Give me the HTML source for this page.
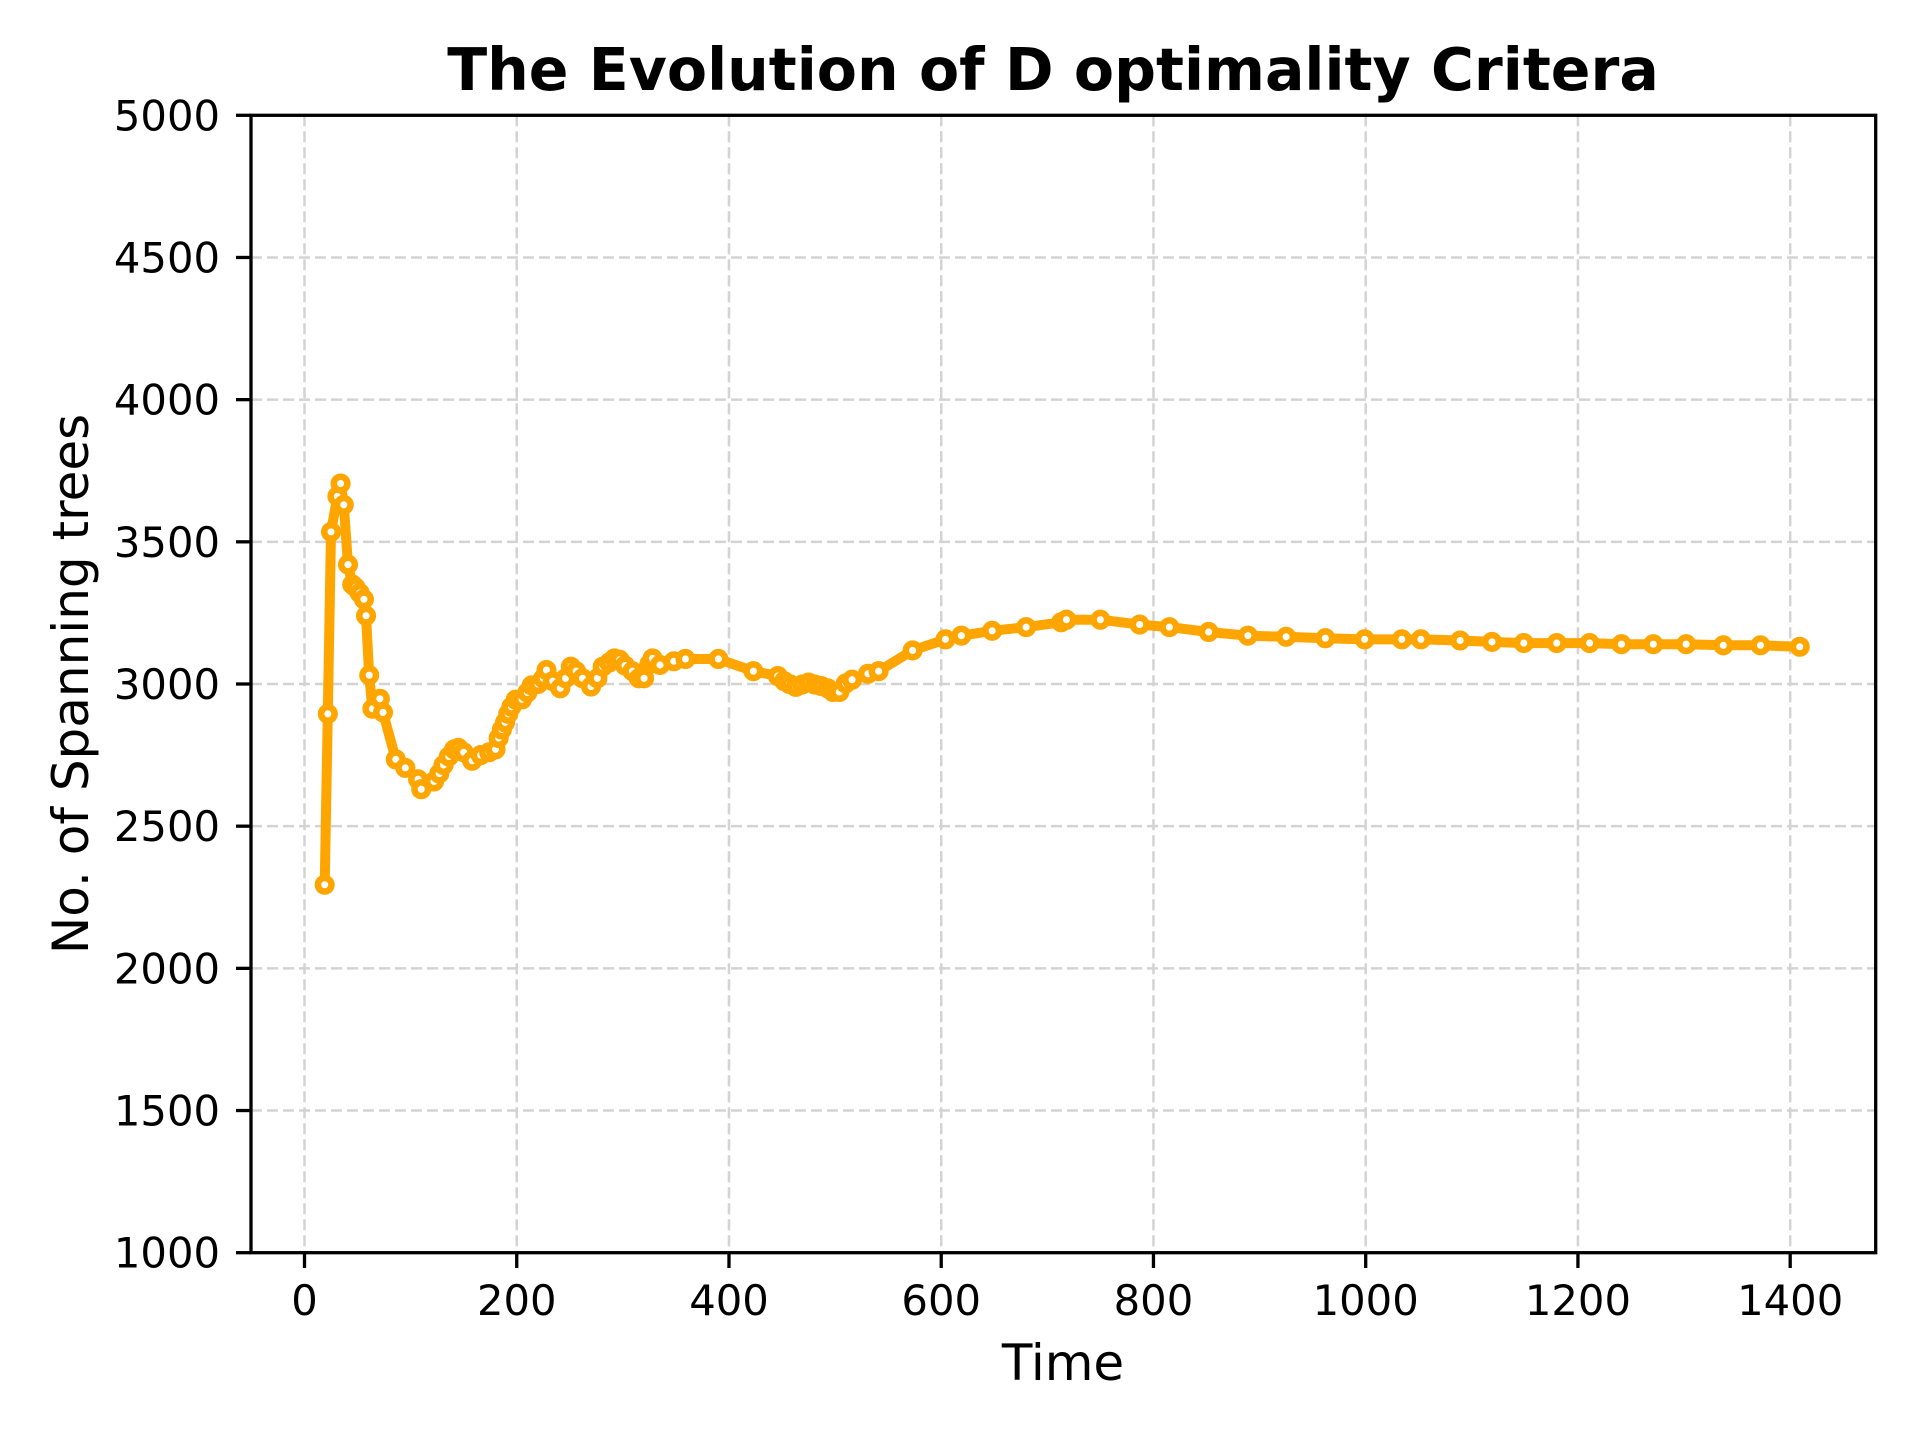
<!DOCTYPE html>
<html><head><meta charset="utf-8"><style>
html,body{margin:0;padding:0;background:#fff;}
svg{display:block;font-family:"DejaVu Sans","Liberation Sans",sans-serif;}
</style></head><body>
<svg id="chart" width="1920" height="1440" viewBox="0 0 1920 1440" xmlns="http://www.w3.org/2000/svg">
<rect x="0" y="0" width="1920" height="1440" fill="#fff"/>
<g id="grid"></g>
<g id="series"></g>
<rect x="251" y="115.3" width="1624.7" height="1137.4" fill="none" stroke="#000" stroke-width="3.3"/>
<g id="ticks"></g>
<text x="1053" y="90" text-anchor="middle" font-size="58.5" font-weight="bold">The Evolution of D optimality Critera</text>
<text x="1063" y="1380" text-anchor="middle" font-size="50">Time</text>
<text x="0" y="0" transform="translate(88,684) rotate(-90)" text-anchor="middle" font-size="50">No. of Spanning trees</text>
</svg>
<script>
const xTicks = [0,200,400,600,800,1000,1200,1400];
const yTicks = [1000,1500,2000,2500,3000,3500,4000,4500,5000];
const times = [19,22,25,31,34,37,41,45,48,52,56,58,61,64,71,74,86,95,107,110,122,127,131,136,141,145,150,158,166,174,180,183,186,189,192,195,199,205,210,214,220,225,228,234,241,246,251,256,262,270,276,281,287,292,297,302,309,315,320,325,328,335,348,359,390,423,446,452,457,463,469,475,481,487,493,498,504,510,516,531,541,573,604,619,648,680,713,718,750,787,815,852,889,925,962,999,1034,1052,1089,1119,1149,1180,1211,1241,1271,1302,1337,1372,1409];
const trees = [2294,2895,3535,3660,3705,3630,3420,3350,3340,3320,3298,3240,3031,2913,2948,2900,2735,2705,2665,2630,2657,2685,2715,2745,2770,2775,2760,2730,2750,2760,2770,2810,2840,2865,2895,2920,2945,2946,2970,2995,3000,3020,3049,3010,2985,3020,3061,3045,3020,2991,3020,3061,3075,3090,3085,3065,3045,3020,3020,3070,3090,3067,3080,3088,3088,3045,3028,3010,3000,2990,2998,3005,2998,2993,2985,2972,2972,3002,3015,3036,3045,3118,3157,3170,3187,3200,3217,3226,3226,3209,3200,3183,3170,3166,3161,3157,3157,3157,3153,3148,3144,3144,3144,3140,3140,3140,3136,3136,3131];

const X0 = 304.5, XS = 1.0612;
const Y0 = 1252.7, YS = 0.28435;
function xs(v){ return X0 + v*XS; }
function ys(v){ return Y0 - (v-1000)*YS; }
const NS = 'http://www.w3.org/2000/svg';
const grid = document.getElementById('grid');
const ticks = document.getElementById('ticks');
const series = document.getElementById('series');

xTicks.forEach(t => {
  const gl = document.createElementNS(NS,'line');
  gl.setAttribute('x1', xs(t)); gl.setAttribute('x2', xs(t));
  gl.setAttribute('y1', 115.3); gl.setAttribute('y2', 1252.7);
  gl.setAttribute('stroke', '#d3d3d3'); gl.setAttribute('stroke-width', '2.5'); gl.setAttribute('stroke-dasharray', '11 5');
  
  
  grid.appendChild(gl);
  const tk = document.createElementNS(NS,'line');
  tk.setAttribute('x1', xs(t)); tk.setAttribute('x2', xs(t));
  tk.setAttribute('y1', 1252.7); tk.setAttribute('y2', 1268);
  tk.setAttribute('stroke', '#000'); tk.setAttribute('stroke-width', '3.3');
  
  
  ticks.appendChild(tk);
  const tx = document.createElementNS(NS,'text');
  tx.setAttribute('x', xs(t)); tx.setAttribute('y', 1315);
  tx.setAttribute('text-anchor', 'middle'); tx.setAttribute('font-size', '41.7');
  tx.textContent = t;
  
  
  ticks.appendChild(tx);
});
yTicks.forEach(t => {
  const gl = document.createElementNS(NS,'line');
  gl.setAttribute('x1', 251); gl.setAttribute('x2', 1875.7);
  gl.setAttribute('y1', ys(t)); gl.setAttribute('y2', ys(t));
  gl.setAttribute('stroke', '#d3d3d3'); gl.setAttribute('stroke-width', '2.5'); gl.setAttribute('stroke-dasharray', '11 5');
  
  
  grid.appendChild(gl);
  const tk = document.createElementNS(NS,'line');
  tk.setAttribute('x1', 236); tk.setAttribute('x2', 251);
  tk.setAttribute('y1', ys(t)); tk.setAttribute('y2', ys(t));
  tk.setAttribute('stroke', '#000'); tk.setAttribute('stroke-width', '3.3');
  
  
  ticks.appendChild(tk);
  const tx = document.createElementNS(NS,'text');
  tx.setAttribute('x', 220); tx.setAttribute('y', ys(t)+15);
  tx.setAttribute('text-anchor', 'end'); tx.setAttribute('font-size', '41.7');
  tx.textContent = t;
  
  
  ticks.appendChild(tx);
});

const pts = times.map((t,i) => xs(t).toFixed(1)+','+ys(trees[i]).toFixed(1)).join(' ');
const pl = document.createElementNS(NS,'polyline');
pl.setAttribute('points', pts);
pl.setAttribute('fill', 'none'); pl.setAttribute('stroke', '#FFA500');
pl.setAttribute('stroke-width', '10'); pl.setAttribute('stroke-linejoin', 'round');


series.appendChild(pl);
times.forEach((t,i) => {
  const c = document.createElementNS(NS,'circle');
  c.setAttribute('cx', xs(t)); c.setAttribute('cy', ys(trees[i]));
  c.setAttribute('r', '6.8'); c.setAttribute('fill', '#fff');
  c.setAttribute('stroke', '#FFA500'); c.setAttribute('stroke-width', '6.5');
  
  
  series.appendChild(c);
});
</script>
</body></html>
